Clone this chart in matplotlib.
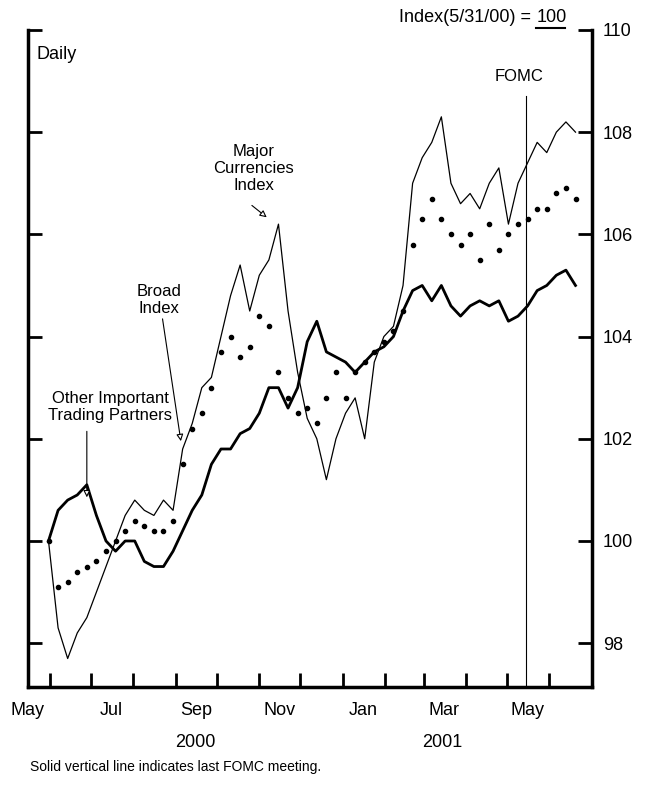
import matplotlib
matplotlib.use("Agg")
import matplotlib.pyplot as plt
import pandas as pd

plt.rcParams['font.family'] = ['Liberation Sans', 'DejaVu Sans']

# weekly readings, starting 5/31/2000
dates = pd.date_range("2000-05-31", periods=56, freq="7D")
major = [100.0, 98.3, 97.7, 98.2, 98.5, 99.0, 99.5, 100.0, 100.5, 100.8,
         100.6, 100.5, 100.8, 100.6, 101.8, 102.3, 103.0, 103.2, 104.0, 104.8,
         105.4, 104.5, 105.2, 105.5, 106.2, 104.5, 103.3, 102.4, 102.0, 101.2,
         102.0, 102.5, 102.8, 102.0, 103.5, 104.0, 104.2, 105.0, 107.0, 107.5,
         107.8, 108.3, 107.0, 106.6, 106.8, 106.5, 107.0, 107.3, 106.2, 107.0,
         107.4, 107.8, 107.6, 108.0, 108.2, 108.0]
broad = [100.0, 99.1, 99.2, 99.4, 99.5, 99.6, 99.8, 100.0, 100.2, 100.4,
         100.3, 100.2, 100.2, 100.4, 101.5, 102.2, 102.5, 103.0, 103.7, 104.0,
         103.6, 103.8, 104.4, 104.2, 103.3, 102.8, 102.5, 102.6, 102.3, 102.8,
         103.3, 102.8, 103.3, 103.5, 103.7, 103.9, 104.1, 104.5, 105.8, 106.3,
         106.7, 106.3, 106.0, 105.8, 106.0, 105.5, 106.2, 105.7, 106.0, 106.2,
         106.3, 106.5, 106.5, 106.8, 106.9, 106.7]
other = [100.0, 100.6, 100.8, 100.9, 101.1, 100.5, 100.0, 99.8, 100.0, 100.0,
         99.6, 99.5, 99.5, 99.8, 100.2, 100.6, 100.9, 101.5, 101.8, 101.8,
         102.1, 102.2, 102.5, 103.0, 103.0, 102.6, 103.0, 103.9, 104.3, 103.7,
         103.6, 103.5, 103.3, 103.5, 103.7, 103.8, 104.0, 104.5, 104.9, 105.0,
         104.7, 105.0, 104.6, 104.4, 104.6, 104.7, 104.6, 104.7, 104.3, 104.4,
         104.6, 104.9, 105.0, 105.2, 105.3, 105.0]
fomc = pd.Timestamp("2001-05-15")

fig = plt.figure(figsize=(6.46, 7.88), dpi=100)
ax = fig.add_axes([0.0433, 0.128, 0.873, 0.834])

ax.plot(dates, major, color='black', lw=0.9)
ax.plot(dates, other, color='black', lw=2.0)
ax.plot(dates, broad, color='black', ls='none', marker='o', ms=3)
ax.axvline(fomc, ymax=(108.7 - 97.14) / (110 - 97.14), color='black', lw=0.8)

ax.set_xlim(pd.Timestamp("2000-05-16"), pd.Timestamp("2001-07-02"))
ax.set_ylim(97.14, 110)

# month boundary ticks, labels centred on every other month
months = pd.date_range("2000-06-01", "2001-06-01", freq="MS")
ax.set_xticks(months)
ax.set_xticklabels([])
ax.tick_params(axis='x', direction='in', length=10, width=2)
labpos = pd.date_range("2000-05-01", "2001-05-01", freq="2MS") + pd.Timedelta(days=15)
for d in labpos:
    ax.text(d, -0.022, d.strftime("%b"), transform=ax.get_xaxis_transform(),
            ha='center', va='top', fontsize=13)
ax.text(pd.Timestamp("2000-09-15"), -0.072, "2000", transform=ax.get_xaxis_transform(),
        ha='center', va='top', fontsize=13)
ax.text(pd.Timestamp("2001-03-15"), -0.072, "2001", transform=ax.get_xaxis_transform(),
        ha='center', va='top', fontsize=13)

ax.set_yticks([98, 100, 102, 104, 106, 108, 110])
ax.yaxis.tick_right()
ax.tick_params(axis='y', which='both', direction='in', length=10, width=2,
               left=True, right=True, labelleft=False, labelright=True,
               labelsize=13, pad=8)
for s in ['left', 'right', 'bottom']:
    ax.spines[s].set_linewidth(2.5)
ax.spines['top'].set_visible(False)

ax.text(0.015, 0.975, "Daily", transform=ax.transAxes, fontsize=13, va='top')
fig.text(0.830, 0.988, "Index(5/31/00) = ", ha='right', va='top', fontsize=13)
fig.text(0.830, 0.988, "100", ha='left', va='top', fontsize=13)
fig.add_artist(plt.Line2D([0.830, 0.875], [0.965, 0.965], color='black', lw=1.5))
ax.text(pd.Timestamp("2001-05-10"), 108.95, "FOMC", ha='center', va='bottom', fontsize=12)

ax.text(pd.Timestamp("2000-10-28"), 106.8, "Major\nCurrencies\nIndex", ha='center',
        va='bottom', fontsize=12)
ax.annotate("", xy=(pd.Timestamp("2000-11-08"), 106.3), xytext=(pd.Timestamp("2000-10-25"), 106.6),
            arrowprops=dict(arrowstyle='-|>', color='black', lw=0.8, fc='white'))
ax.text(pd.Timestamp("2000-08-20"), 104.4, "Broad\nIndex", ha='center', va='bottom', fontsize=12)
ax.annotate("", xy=(pd.Timestamp("2000-09-05"), 101.9), xytext=(pd.Timestamp("2000-08-22"), 104.4),
            arrowprops=dict(arrowstyle='-|>', color='black', lw=0.8, fc='white'))
ax.text(pd.Timestamp("2000-07-15"), 102.3, "Other Important\nTrading Partners", ha='center',
        va='bottom', fontsize=12)
ax.annotate("", xy=(pd.Timestamp("2000-06-28"), 100.8), xytext=(pd.Timestamp("2000-06-28"), 102.2),
            arrowprops=dict(arrowstyle='-|>', color='black', lw=0.8, fc='white'))

fig.text(0.046, 0.022, "Solid vertical line indicates last FOMC meeting.", fontsize=10)

fig.savefig("out.png", dpi=100)
